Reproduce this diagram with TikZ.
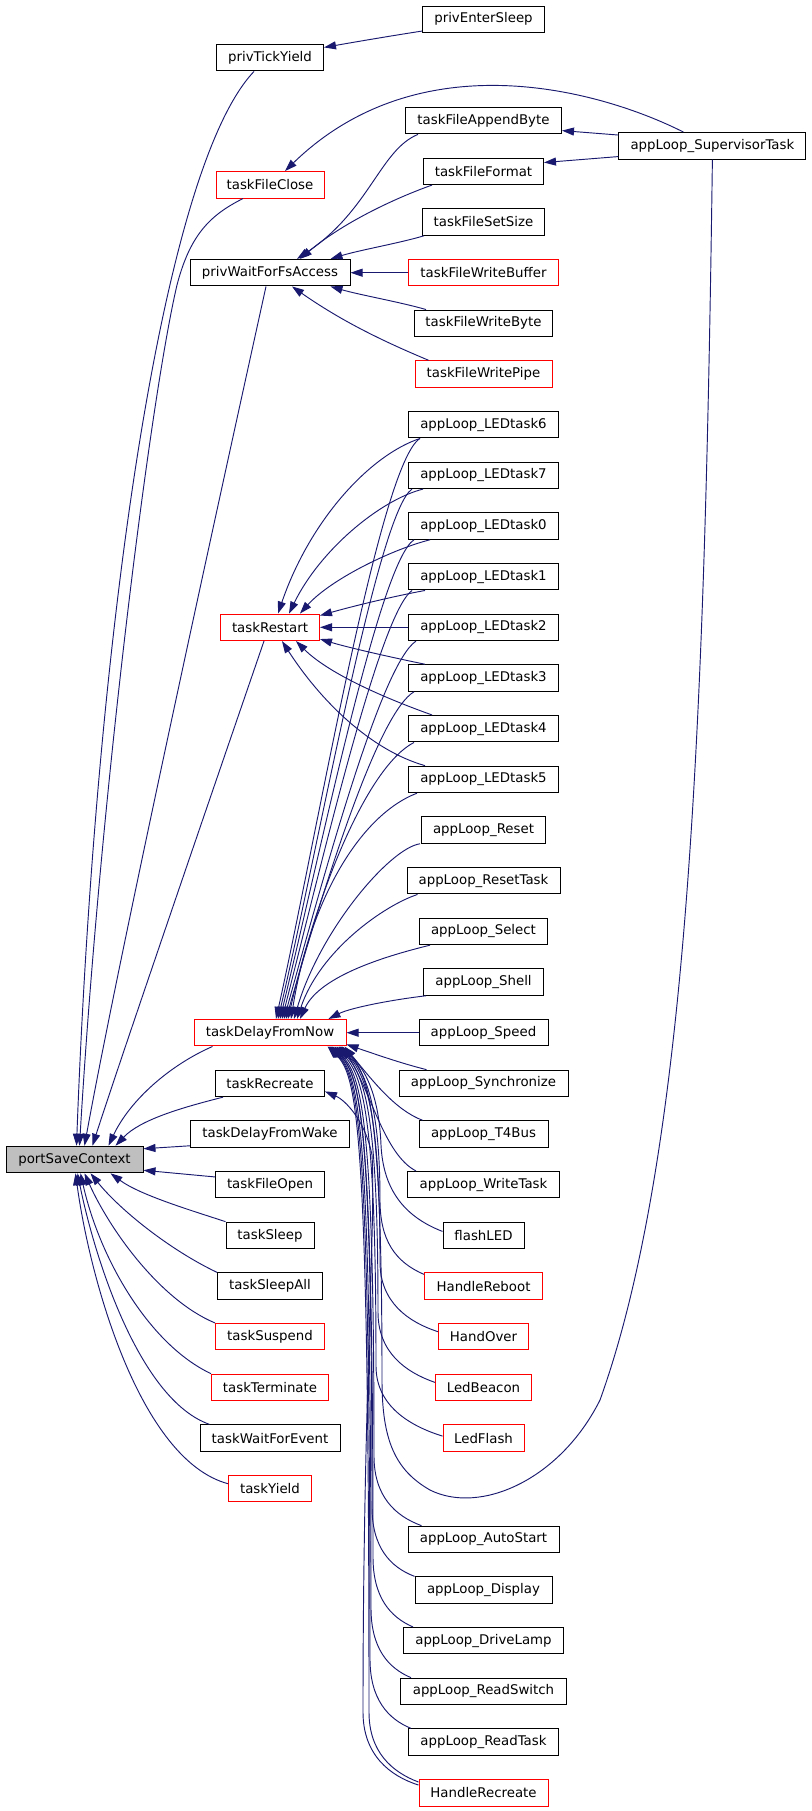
\documentclass[tikz,border=0pt]{standalone}
\usepackage{fontspec}
\setmainfont{DejaVu Sans}
\usetikzlibrary{arrows.meta,calc}
\definecolor{edgeblue}{HTML}{191970}
\definecolor{boxred}{HTML}{FF0000}
\definecolor{boxgray}{HTML}{BFBFBF}
\tikzset{
  fn/.style={draw=black,line width=0.75pt,fill=white,minimum height=19.9pt,inner sep=0pt,font=\fontsize{10pt}{12pt}\selectfont},
  fnred/.style={fn,draw=boxred},
  wd/.style={minimum width=#1*0.75pt},
  call/.style={draw=edgeblue,line width=0.7pt,-{Triangle[length=9pt,width=6pt]}},
}
\begin{document}
\begin{tikzpicture}[x=0.75pt,y=-0.75pt]
\useasboundingbox (0,0) rectangle (811,1811);
\fill[white] (0,0) rectangle (811,1811);
% left column
\node[fn,wd=137,fill=boxgray] (psc) at (74.5,1159.5) {portSaveContext};
\node[fn,wd=107] (ptv) at (270,57.7) {privTickYield};
\node[fnred,wd=108] (tfc) at (270,184.8) {taskFileClose};
\node[fn,wd=160] (pwf) at (270,272.7) {privWaitForFsAccess};
\node[fnred,wd=99] (trs) at (270,627.3) {taskRestart};
\node[fnred,wd=152] (tdn) at (270,1032.7) {taskDelayFromNow};
\node[fn,wd=109] (trc) at (270,1083.4) {taskRecreate};
\node[fn,wd=159] (tdw) at (270,1134) {taskDelayFromWake};
\node[fn,wd=109] (tfo) at (270,1184.7) {taskFileOpen};
\node[fn,wd=88] (tsl) at (270,1235.4) {taskSleep};
\node[fn,wd=105] (tsa) at (270,1286.1) {taskSleepAll};
\node[fnred,wd=109] (tsu) at (270,1336.7) {taskSuspend};
\node[fnred,wd=117] (tte) at (270,1387.4) {taskTerminate};
\node[fn,wd=140] (twe) at (270,1438.1) {taskWaitForEvent};
\node[fnred,wd=83] (tyi) at (270,1488.7) {taskYield};
% right column
\node[fn,wd=122] (pes) at (483.5,19.3) {privEnterSleep};
\node[fn,wd=187] (sup) at (712.4,145.8) {appLoop\_SupervisorTask};
\node[fn,wd=156] (fab) at (483.5,120.6) {taskFileAppendByte};
\node[fn,wd=120] (ffo) at (483.5,171.3) {taskFileFormat};
\node[fn,wd=122] (fss) at (483.5,222.0) {taskFileSetSize};
\node[fnred,wd=150] (fwb) at (483.5,272.7) {taskFileWriteBuffer};
\node[fn,wd=138] (fwy) at (483.5,323.3) {taskFileWriteByte};
\node[fnred,wd=137] (fwp) at (483.5,374.0) {taskFileWritePipe};
\node[fn,wd=150] (l6) at (483.5,424.7) {appLoop\_LEDtask6};
\node[fn,wd=150] (l7) at (483.5,475.3) {appLoop\_LEDtask7};
\node[fn,wd=150] (l0) at (483.5,526.0) {appLoop\_LEDtask0};
\node[fn,wd=150] (l1) at (483.5,576.7) {appLoop\_LEDtask1};
\node[fn,wd=150] (l2) at (483.5,627.3) {appLoop\_LEDtask2};
\node[fn,wd=150] (l3) at (483.5,678.0) {appLoop\_LEDtask3};
\node[fn,wd=150] (l4) at (483.5,728.7) {appLoop\_LEDtask4};
\node[fn,wd=150] (l5) at (483.5,779.4) {appLoop\_LEDtask5};
\node[fn,wd=124] (rst) at (483.5,830.0) {appLoop\_Reset};
\node[fn,wd=153] (rtk) at (483.5,880.7) {appLoop\_ResetTask};
\node[fn,wd=128] (sel) at (483.5,931.4) {appLoop\_Select};
\node[fn,wd=120] (shl) at (483.5,982.0) {appLoop\_Shell};
\node[fn,wd=129] (spd) at (483.5,1032.7) {appLoop\_Speed};
\node[fn,wd=169] (syn) at (483.5,1083.4) {appLoop\_Synchronize};
\node[fn,wd=129] (t4b) at (483.5,1134.0) {appLoop\_T4Bus};
\node[fn,wd=152] (wtk) at (483.5,1184.7) {appLoop\_WriteTask};
\node[fn,wd=81] (fle) at (483.5,1235.4) {flashLED};
\node[fnred,wd=118] (hrb) at (483.5,1286.1) {HandleReboot};
\node[fnred,wd=90] (hov) at (483.5,1336.7) {HandOver};
\node[fnred,wd=96] (lbe) at (483.5,1387.4) {LedBeacon};
\node[fnred,wd=81] (lfl) at (483.5,1438.1) {LedFlash};
\node[fn,wd=151] (aus) at (483.5,1539.4) {appLoop\_AutoStart};
\node[fn,wd=137] (dsp) at (483.5,1590.1) {appLoop\_Display};
\node[fn,wd=160] (dlp) at (483.5,1640.7) {appLoop\_DriveLamp};
\node[fn,wd=166] (rsw) at (483.5,1691.4) {appLoop\_ReadSwitch};
\node[fn,wd=150] (rtd) at (483.5,1742.1) {appLoop\_ReadTask};
\node[fnred,wd=129] (hrc) at (483.5,1792.8) {HandleRecreate};
% edges to privTickYield
\draw[call] ($(pes.south west)+(0,-2)$) .. controls (390,36) and (355,42) .. ($(ptv.north east)+(0,3.5)$);
% edges to portSaveContext
\draw[call] ($(ptv.south)+(-16,0)$) .. controls (160,170) and (95,650) .. ($(psc.north)+(2,0)$);
\draw[call] ($(tfc.south)+(-27,0)$) .. controls (210,215) and (190,235) .. (177,285) .. controls (150,400) and (100,800) .. ($(psc.north)+(5,0)$);
\draw[call] ($(pwf.south)+(-4,0)$) .. controls (230,450) and (120,950) .. ($(psc.north)+(10,0)$);
\draw[call] ($(trs.south)+(-6,0)$) .. controls (230,740) and (120,1060) .. ($(psc.north)+(18,0)$);
\draw[call] ($(tdn.south west)+(19,0)$) .. controls (170,1065) and (130,1100) .. ($(psc.north)+(34,0)$);
\draw[call] ($(trc.south west)+(8,0)$) .. controls (180,1108) and (140,1120) .. ($(psc.north east)+(-28,0)$);
\draw[call] ($(tdw.south west)+(0,-2)$) -- ($(psc.north east)+(0,3)$);
\draw[call] ($(tfo.north west)+(0,6)$) -- ($(psc.south east)+(0,-3)$);
\draw[call] (tsl.north west) .. controls (190,1210) and (140,1195) .. ($(psc.south)+(36,0)$);
\draw[call] (tsa.north west) .. controls (170,1250) and (120,1210) .. ($(psc.south)+(16,0)$);
\draw[call] (tsu.north west) .. controls (160,1300) and (110,1230) .. ($(psc.south)+(10,0)$);
\draw[call] (tte.north west) .. controls (150,1345) and (100,1260) .. ($(psc.south)+(6,0)$);
\draw[call] ($(twe.north west)+(10,0)$) .. controls (140,1400) and (95,1260) .. ($(psc.south)+(3,0)$);
\draw[call] ($(tyi.west)+(0,-5)$) .. controls (140,1460) and (90,1280) .. ($(psc.south)+(1,0)$);
% supervisor
\draw[call] ($(sup.north west)+(0,3)$) -- ($(fab.east)+(0,10)$);
\draw[call] ($(sup.south west)+(0,-3)$) -- ($(ffo.north east)+(0,5)$);
\draw[call] ($(sup.north)+(-29,0)$) .. controls (600,90) and (420,40) .. ($(tfc.north)+(15,0)$);
\draw[call] (sup.south) .. controls (705,700) and (690,1150) .. (600,1400) .. controls (560,1480) and (480,1515) .. (430,1490) .. controls (395,1470) and (382,1440) .. (382,1380) .. controls (382,1120) and (370,1075) .. ($(tdn.south east)+(-5,0)$);
% edges to privWaitForFsAccess
\draw[call] ($(fab.south west)+(13,0)$) .. controls (380,150) and (370,210) .. ($(pwf.north)+(27,0)$);
\draw[call] ($(ffo.south west)+(9,0)$) .. controls (390,200) and (340,225) .. ($(pwf.north)+(30,0)$);
\draw[call] ($(fss.south west)+(2,0)$) .. controls (400,243) and (360,250) .. ($(pwf.north east)+(-20,0)$);
\draw[call] (fwb.west) -- (pwf.east);
\draw[call] ($(fwy.north west)+(12,0)$) .. controls (400,302) and (360,295) .. ($(pwf.south east)+(-20,0)$);
\draw[call] ($(fwp.north west)+(14,0)$) .. controls (380,340) and (340,320) .. ($(pwf.south)+(22,0)$);
% edges to taskRestart
\draw[call] ($(l6.south west)+(12,0)$) .. controls (370,455) and (310,520) .. ($(trs.north)+(8,0)$);
\draw[call] ($(l7.south west)+(15,0)$) .. controls (380,500) and (320,550) .. ($(trs.north)+(19,0)$);
\draw[call] ($(l0.south west)+(22,0)$) .. controls (390,550) and (330,580) .. ($(trs.north)+(30,0)$);
\draw[call] ($(l1.south west)+(17,0)$) .. controls (390,597) and (350,607) .. ($(trs.north east)+(0,2)$);
\draw[call] (l2.west) -- (trs.east);
\draw[call] ($(l3.north west)+(17,0)$) .. controls (390,657) and (350,648) .. ($(trs.south east)+(0,-2)$);
\draw[call] ($(l4.north west)+(24,0)$) .. controls (390,700) and (330,675) .. ($(trs.south)+(26,0)$);
\draw[call] ($(l5.north west)+(17,0)$) .. controls (370,750) and (320,700) .. ($(trs.south)+(12,0)$);
% edges to taskDelayFromNow (top)
\draw[call] ($(l6.south west)+(12,0)$) .. controls (380,463) and (318,830) .. ($(tdn.north)+(6,0)$);
\draw[call] ($(l7.south west)+(4,0)$) .. controls (378,512) and (320,840) .. ($(tdn.north)+(8,0)$);
\draw[call] ($(l0.south west)+(6,0)$) .. controls (380,562) and (322,845) .. ($(tdn.north)+(10,0)$);
\draw[call] ($(l1.south west)+(4,0)$) .. controls (380,614) and (325,850) .. ($(tdn.north)+(12,0)$);
\draw[call] ($(l2.south west)+(8,0)$) .. controls (382,664) and (328,860) .. ($(tdn.north)+(14,0)$);
\draw[call] ($(l3.south west)+(6,0)$) .. controls (380,712) and (330,865) .. ($(tdn.north)+(16,0)$);
\draw[call] ($(l4.south west)+(6,0)$) .. controls (370,765) and (320,880) .. ($(tdn.north)+(18,0)$);
\draw[call] ($(l5.south west)+(9,0)$) .. controls (360,815) and (310,900) .. ($(tdn.north)+(21,0)$);
\draw[call] ($(rst.south west)+(-1,0)$) .. controls (390,848) and (320,930) .. ($(tdn.north)+(24,0)$);
\draw[call] ($(rtk.south west)+(11,0)$) .. controls (385,905) and (320,950) .. ($(tdn.north)+(27,0)$);
\draw[call] ($(sel.south west)+(11,0)$) .. controls (390,955) and (320,975) .. ($(tdn.north)+(30,0)$);
\draw[call] ($(shl.south west)+(3,0)$) .. controls (390,1000) and (350,1008) .. ($(tdn.north east)+(-18,0)$);
\draw[call] (spd.west) -- (tdn.east);
% edges to taskDelayFromNow (bottom)
\draw[call] ($(syn.north west)+(28,0)$) .. controls (400,1063) and (375,1054) .. ($(tdn.south east)+(0,-2)$);
\draw[call] ($(t4b.north west)+(4,0)$) .. controls (395,1110) and (372,1080) .. ($(tdn.south east)+(-2,0)$);
\draw[call] ($(wtk.north west)+(9,0)$) .. controls (385,1155) and (372,1095) .. ($(tdn.south east)+(-4,0)$);
\draw[call] ($(fle.west)+(0,-4)$) .. controls (400,1215) and (383,1185) .. (381,1145) .. controls (379,1095) and (365,1068) .. ($(tdn.south east)+(-6,0)$);
\draw[call] ($(hrb.north west)+(0,2)$) .. controls (395,1262) and (380,1240) .. (380,1200) .. controls (380,1110) and (367,1072) .. ($(tdn.south east)+(-7,0)$);
\draw[call] ($(hov.west)+(0,-5)$) .. controls (408,1322) and (380,1302) .. (380,1262) .. controls (380,1120) and (368,1075) .. ($(tdn.south east)+(-8,0)$);
\draw[call] ($(lbe.west)+(0,-5)$) .. controls (405,1372) and (378,1352) .. (378,1312) .. controls (378,1120) and (366,1075) .. ($(tdn.south east)+(-10,0)$);
\draw[call] ($(lfl.west)+(0,-2)$) .. controls (410,1426) and (376,1406) .. (376,1366) .. controls (376,1120) and (364,1075) .. ($(tdn.south east)+(-12,0)$);
\draw[call] ($(aus.north west)+(14,0)$) .. controls (395,1516) and (374,1496) .. (374,1456) .. controls (374,1120) and (362,1075) .. ($(tdn.south east)+(-14,0)$);
\draw[call] (dsp.north west) .. controls (390,1567) and (372,1547) .. (372,1507) .. controls (372,1120) and (360,1075) .. ($(tdn.south east)+(-15,0)$);
\draw[call] ($(dlp.north west)+(10,0)$) .. controls (390,1617) and (373,1597) .. (373,1557) .. controls (373,1120) and (361,1075) .. ($(tdn.south east)+(-16,0)$);
\draw[call] ($(rsw.north west)+(11,0)$) .. controls (388,1668) and (371,1648) .. (371,1608) .. controls (371,1120) and (359,1075) .. ($(tdn.south east)+(-17,0)$);
\draw[call] ($(rtd.north west)+(3,0)$) .. controls (388,1719) and (370,1699) .. (370,1659) .. controls (370,1120) and (358,1075) .. ($(tdn.south east)+(-18,0)$);
\draw[call] ($(hrc.north west)+(0,3)$) .. controls (392,1772) and (369,1752) .. (369,1712) .. controls (369,1120) and (357,1075) .. ($(tdn.south east)+(-19,0)$);
% HandleRecreate to taskRecreate
\draw[call] ($(hrc.north west)+(0,6)$) .. controls (390,1776) and (363,1755) .. (363,1712) .. controls (363,1400) and (376,1220) .. (372,1155) .. controls (365,1120) and (345,1100) .. ($(trc.east)+(0,8)$);
\end{tikzpicture}
\end{document}
